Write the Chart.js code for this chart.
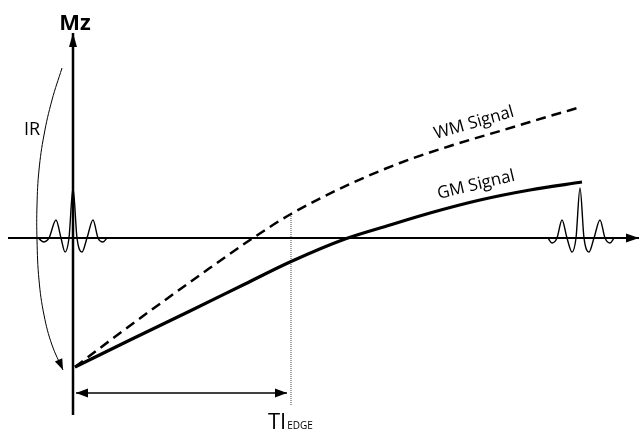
<!DOCTYPE html>
<html>
<head>
<meta charset="utf-8">
<title>Inversion recovery: WM / GM signal</title>
<script src="https://cdn.jsdelivr.net/npm/chart.js"></script>
<style>
  html, body { margin: 0; padding: 0; background: #fff; }
  #wrap { width: 639px; height: 431px; position: relative; }
</style>
</head>
<body>
<div id="wrap"><canvas id="irChart"></canvas></div>
<script>
  // time axis (arbitrary units) and Mz (arbitrary units), origin at the axes crossing
  const wmTime   = [2, 27, 77, 127, 180, 218, 277, 327, 377, 427, 447, 477, 508];
  const wmSignal = [-129, -110, -73, -37, 0, 24, 54, 75, 92, 107, 113, 122, 131];

  const gmTime   = [2, 57, 117, 172, 217, 272, 317, 357, 407, 457, 509];
  const gmSignal = [-129, -102, -73, -46, -24, -1, 13, 25, 38, 48, 56];

  // RF pulse shapes
  const leftPulseT  = [-35, -29, -24, -17, -12, -8, -4, 0, 4, 9, 14, 20, 25, 30, 34];
  const leftPulseMz = [0, -4, 0, 18, 0, -14, 0, 50, 0, -14, 0, 18, 0, -4, 0];
  const rightPulseT  = [475, 479, 484, 489, 494, 499, 503, 507, 511, 516, 521, 527, 532, 537, 541];
  const rightPulseMz = [0, -5, 0, 18, 0, -14, 0, 50, 0, -14, 0, 18, 0, -5, 0];

  // inversion arrow
  const irArcT  = [-11, -21, -29, -34, -36, -36, -34, -29, -21, -10];
  const irArcMz = [170, 138, 103, 68, 33, -2, -42, -77, -107, -132];

  const tiEdge = 218;
  const timeAxis = [-65, 566];
  const mzAxis = [-177, 205];
  const tiArrowMz = -155;
  const tiLineMz = [24, -167];

  const pts = (xs, ys) => xs.map((x, i) => ({ x: x, y: ys[i] }));

  const datasets = [
    { data: pts(timeAxis, [0, 0]), borderColor: '#000', borderWidth: 2 },
    { data: pts([0, 0], mzAxis), borderColor: '#000', borderWidth: 2.5 },
    { data: pts(wmTime, wmSignal), borderColor: '#000', borderWidth: 2.5, borderDash: [10, 6], cubicInterpolationMode: 'monotone' },
    { data: pts(gmTime, gmSignal), borderColor: '#000', borderWidth: 3.2, cubicInterpolationMode: 'monotone' },
    { data: pts([tiEdge, tiEdge], tiLineMz), borderColor: '#444', borderWidth: 1, borderDash: [1, 1] },
    { data: pts(leftPulseT, leftPulseMz), borderColor: '#000', borderWidth: 1.4, cubicInterpolationMode: 'monotone' },
    { data: pts(rightPulseT, rightPulseMz), borderColor: '#000', borderWidth: 1.4, cubicInterpolationMode: 'monotone' },
    { data: pts(irArcT, irArcMz), borderColor: '#000', borderWidth: 1, tension: 0.4 },
    { data: pts([3, tiEdge - 4], [tiArrowMz, tiArrowMz]), borderColor: '#000', borderWidth: 1.5 }
  ];
  datasets.forEach(d => { d.showLine = true; d.pointRadius = 0; d.fill = false; d.clip = false; });

  // arrowheads: dataset index, which end, length, half width
  const arrows = [
    { ds: 0, end: 'last', len: 13, half: 4.5 },
    { ds: 1, end: 'last', len: 14, half: 4 },
    { ds: 7, end: 'last', len: 11, half: 4 },
    { ds: 8, end: 'last', len: 12, half: 4.5 },
    { ds: 8, end: 'first', len: 12, half: 4.5 }
  ];

  const labels = [
    { text: 'Mz', x: 2, y: 214, font: 'bold 22px "Open Sans"', angle: 0 },
    { text: 'IR', x: -41, y: 108, font: '18px "Open Sans"', angle: 0 },
    { text: 'WM Signal', x: 401, y: 115, font: '17px "Open Sans"', angle: -16 },
    { text: 'GM Signal', x: 403, y: 53, font: '17px "Open Sans"', angle: -13.5 }
  ];

  const decorations = {
    id: 'decorations',
    afterDatasetsDraw(chart) {
      const ctx = chart.ctx;
      const xs = chart.scales.x, ys = chart.scales.y;
      ctx.save();
      ctx.fillStyle = '#000';
      arrows.forEach(a => {
        const d = chart.data.datasets[a.ds].data;
        const tip = a.end === 'last' ? d[d.length - 1] : d[0];
        const prev = a.end === 'last' ? d[d.length - 2] : d[1];
        const tx = xs.getPixelForValue(tip.x), ty = ys.getPixelForValue(tip.y);
        const px = xs.getPixelForValue(prev.x), py = ys.getPixelForValue(prev.y);
        const ang = Math.atan2(ty - py, tx - px);
        ctx.beginPath();
        ctx.moveTo(tx, ty);
        ctx.lineTo(tx - a.len * Math.cos(ang) + a.half * Math.sin(ang), ty - a.len * Math.sin(ang) - a.half * Math.cos(ang));
        ctx.lineTo(tx - a.len * Math.cos(ang) - a.half * Math.sin(ang), ty - a.len * Math.sin(ang) + a.half * Math.cos(ang));
        ctx.closePath();
        ctx.fill();
      });

      ctx.textAlign = 'center';
      ctx.textBaseline = 'middle';
      labels.forEach(l => {
        ctx.save();
        ctx.translate(xs.getPixelForValue(l.x), ys.getPixelForValue(l.y));
        ctx.rotate(l.angle * Math.PI / 180);
        ctx.font = l.font;
        ctx.fillText(l.text, 0, 0);
        ctx.restore();
      });

      // TI with small EDGE subscript
      ctx.textAlign = 'left';
      ctx.textBaseline = 'alphabetic';
      const bx = xs.getPixelForValue(tiEdge - 23), by = ys.getPixelForValue(-191);
      ctx.font = '22px "Open Sans"';
      ctx.fillText('TI', bx, by);
      const w = ctx.measureText('TI').width;
      ctx.font = '10px "Open Sans"';
      ctx.fillText('EDGE', bx + w + 1, by);
      ctx.restore();
    }
  };

  new Chart(document.getElementById('irChart').getContext('2d'), {
    type: 'scatter',
    data: { datasets: datasets },
    options: {
      responsive: true,
      maintainAspectRatio: false,
      animation: false,
      layout: { padding: 0 },
      scales: {
        x: { type: 'linear', display: false, min: -73, max: 566 },
        y: { type: 'linear', display: false, min: -193, max: 238 }
      },
      plugins: { legend: { display: false }, tooltip: { enabled: false } }
    },
    plugins: [decorations]
  });
</script>
</body>
</html>
